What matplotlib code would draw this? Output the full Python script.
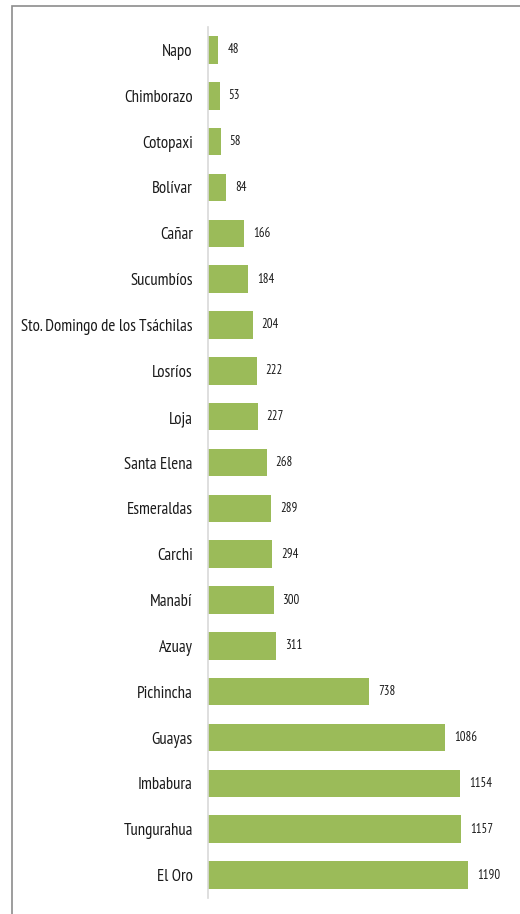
import matplotlib
matplotlib.use("Agg")
import matplotlib.pyplot as plt
from matplotlib.patches import Rectangle

provinces = ["Napo", "Chimborazo", "Cotopaxi", "Bolívar", "Cañar", "Sucumbíos",
             "Sto. Domingo de los Tsáchilas", "Losríos", "Loja", "Santa Elena",
             "Esmeraldas", "Carchi", "Manabí", "Azuay", "Pichincha", "Guayas",
             "Imbabura", "Tungurahua", "El Oro"]
values = [48, 53, 58, 84, 166, 184, 204, 222, 227, 268, 289, 294, 300, 311,
          738, 1086, 1154, 1157, 1190]

W, H = 520, 914
fig = plt.figure(figsize=(W / 100, H / 100), dpi=100)
fig.patch.set_facecolor("white")
font = ["PT Sans Narrow", "DejaVu Sans"]

# outer frame (cropped at right and bottom)
fig.patches.append(Rectangle((12 / W, -0.1), 1.2, 1 - 6 / H + 0.1,
                             transform=fig.transFigure, fill=False,
                             edgecolor="#8c8c8c", linewidth=1.2))

ax_left, ax_right = 208, 500
ax_top, ax_bot = 27, 898
ax = fig.add_axes([ax_left / W, 1 - ax_bot / H, (ax_right - ax_left) / W,
                   (ax_bot - ax_top) / H])
scale = 260 / 1190  # px per unit
xmax = (ax_right - ax_left) / scale
ax.set_xlim(0, xmax)
ax.set_ylim(len(provinces) - 0.5, -0.5)

# fit font sizes to widths measured on the reference
renderer = fig.canvas.get_renderer()
def fit_size(s, target_px, base=10):
    t = fig.text(0, 0, s, fontsize=base, family=font)
    w = t.get_window_extent(renderer).width
    t.remove()
    return base * target_px / w

label_fs = fit_size("Sto. Domingo de los Tsáchilas", 172)
value_fs = fit_size("1190", 23)

ypos = list(range(len(provinces)))
ax.barh(ypos, values, height=0.6, color="#9BBB59", zorder=2)
for y, v in zip(ypos, values):
    ax.text(v + 9 / scale, y, str(v), va="center", ha="left",
            fontsize=value_fs, family=font, color="#1a1a1a")

ax.set_yticks(ypos)
ax.set_yticklabels(provinces, family=font, fontsize=label_fs, color="#1a1a1a")
ax.tick_params(axis="y", length=0, pad=11)
ax.set_xticks([])
for s in ["top", "right", "bottom"]:
    ax.spines[s].set_visible(False)
ax.spines["left"].set_color("#d9d9d9")
ax.spines["left"].set_linewidth(1.2)

fig.savefig("out.png", dpi=100)
